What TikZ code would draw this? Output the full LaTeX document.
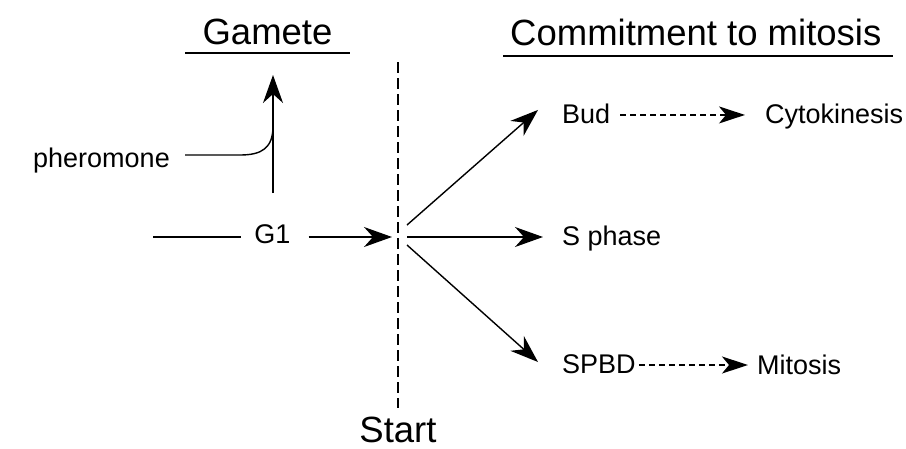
\documentclass[tikz,border=0pt]{standalone}
\usepackage{fontspec}
\setmainfont{Liberation Sans}
\usetikzlibrary{arrows.meta}
\tikzset{
  head/.style={font=\fontsize{36.5}{40}\selectfont, inner sep=0pt},
  lbl/.style={font=\fontsize{27}{30}\selectfont, inner sep=0pt, text height=19.3pt, text depth=0pt},
  plain/.style={line width=1.4pt},
  arr/.style={line width=1.4pt, -{Stealth[length=28pt,width=20pt,inset=9pt]}},
  darr/.style={line width=1.3pt, dash pattern=on 6pt off 4pt, -{Stealth[length=26pt,width=17pt,inset=7pt]}},
  startline/.style={line width=1.8pt, dash pattern=on 11pt off 5pt},
  uline/.style={line width=1.6pt}
}
\begin{document}
\begin{tikzpicture}[x=1pt,y=-1pt]
\useasboundingbox (0,0) rectangle (906,448);
% headings
\node[head, anchor=base] (gam) at (267.5,44) {Gamete};
\node[head, anchor=base west] (com) at (510,45) {Commitment to mitosis};
\draw[uline] (185,53) -- (350,53);
\draw[uline] (503,56) -- (893,56);
% start line
\coordinate (stop) at (398,62);
\coordinate (sbot) at (398,408);
\coordinate (hub) at (398,237);
\draw[startline] (stop) -- (sbot);
\node[head, anchor=base] (start) at (398,442) {Start};
% left side
\node[lbl, anchor=base] (g1) at (272.5,243) {G1};
\node[lbl, anchor=base east] (pher) at (170,167) {pheromone};
\coordinate (g1in) at (153,237);
\draw[plain] (g1in) -- ([xshift=-13pt,yshift=-3.65pt]g1.west);
\draw[arr] ([xshift=18pt,yshift=-3.65pt]g1.east) -- ([xshift=-6pt]hub);
\coordinate (gbot) at (273,193);
\coordinate (gtop) at (273,75);
\draw[arr] (gbot) -- (gtop);
\coordinate (bend) at (240,155);
\coordinate (merge) at (273,126);
\draw[plain] ([xshift=15pt,yshift=2.35pt]pher.east) -- (bend) .. controls (262,155) and (273,148) .. (merge);
% right side
\node[lbl, anchor=base west] (bud) at (562,123) {Bud};
\node[lbl, anchor=base west] (sph) at (562,245) {S phase};
\node[lbl, anchor=base west] (spbd) at (562,373) {SPBD};
\node[lbl, anchor=base west] (cyto) at (765,123) {Cytokinesis};
\node[lbl, anchor=base west] (mit) at (757,374) {Mitosis};
\draw[arr] ([xshift=9pt,yshift=12pt]hub) -- ([xshift=-24pt,yshift=3.4pt]bud.west);
\draw[arr] ([xshift=9pt]hub) -- ([xshift=-19pt,yshift=-1.65pt]sph.west);
\draw[arr] ([xshift=9pt,yshift=-8pt]hub) -- ([xshift=-24pt,yshift=1.35pt]spbd.west);
\draw[darr] ([xshift=10pt,yshift=-1.6pt]bud.east) -- ([xshift=-20pt,yshift=-1.6pt]cyto.west);
\draw[darr] ([xshift=3pt,yshift=-1.65pt]spbd.east) -- ([xshift=-9pt,yshift=-0.65pt]mit.west);
\end{tikzpicture}
\end{document}
